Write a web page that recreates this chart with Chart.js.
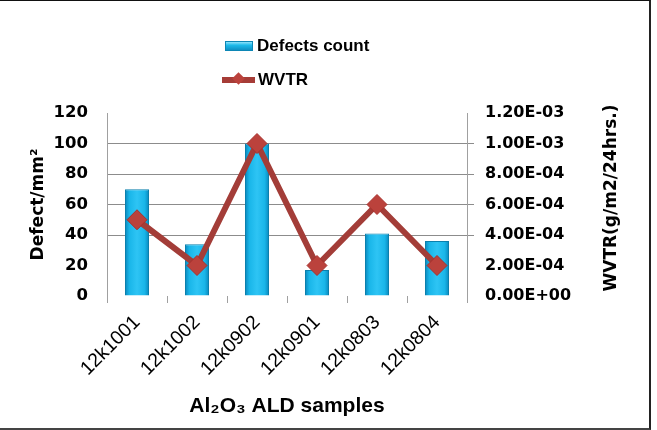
<!DOCTYPE html>
<html lang="en">
<head>
  <meta charset="UTF-8" />
  <title>Defects count and WVTR</title>
  <script src="https://cdn.jsdelivr.net/npm/chart.js"></script>
  <style>
    body {
      margin: 0;
      background: white;
      font-family: "Liberation Sans", Arial, sans-serif;
    }
    .wrap {
      position: relative;
      width: 657px;
      height: 430px;
    }
    .frame {
      position: absolute;
      left: -2px;
      top: 0;
      width: 651px;
      height: 427px;
      border-top: 1px solid #111;
      border-right: 2px solid #222;
      border-bottom: 2px solid #444;
      pointer-events: none;
    }
    .legend {
      position: absolute;
      left: 222px;
      top: 34px;
      font-weight: bold;
      font-size: 17px;
      color: #000;
    }
    .legend .item {
      height: 24px;
      line-height: 24px;
      display: flex;
      align-items: center;
      margin-bottom: 10px;
    }
    .legend .box {
      display: inline-block;
      width: 28px;
      height: 10px;
      margin-left: 3px;
      margin-right: 4px;
      background: linear-gradient(#8fe2fa, #1cbaea 40%, #0e90c4);
      border: 1px solid #0c86b5;
      box-sizing: border-box;
    }
    .legend .line {
      position: relative;
      display: inline-block;
      width: 33px;
      height: 6px;
      margin-right: 3px;
      background: #a63c37;
    }
    .legend .line::after {
      content: "";
      position: absolute;
      left: 12px;
      top: -3px;
      width: 9px;
      height: 9px;
      background: #bb423c;
      transform: rotate(45deg);
    }
    .rtitle {
      position: absolute;
      left: 610px;
      top: 198px;
      transform: translate(-50%, -50%) rotate(-90deg);
      white-space: nowrap;
      font-family: "DejaVu Sans", sans-serif;
      font-weight: bold;
      font-size: 17px;
      color: #000;
    }
    canvas { display: block; }
  </style>
</head>
<body>
<div class="wrap">
  <canvas id="chart" width="657" height="430"></canvas>
  <div class="legend">
    <div class="item"><span class="box"></span>Defects count</div>
    <div class="item"><span class="line"></span>WVTR</div>
  </div>
  <div class="rtitle">WVTR(g/m2/24hrs.)</div>
  <div class="frame"></div>
</div>

<script>
  const samples = ["12k1001", "12k1002", "12k0902", "12k0901", "12k0803", "12k0804"];
  const defects = [70, 34, 100, 17, 41, 36];
  const wvtr = [5e-4, 2e-4, 1e-3, 2e-4, 6e-4, 2e-4];
  const leftTicks = [0, 20, 40, 60, 80, 100, 120];
  const rightTicks = [0, 2e-4, 4e-4, 6e-4, 8e-4, 1e-3, 1.2e-3];
  const shownGrid = [40, 60, 80, 100];

  const dejaBold = { family: "'DejaVu Sans', sans-serif", weight: "bold" };

  function barFill(ctx) {
    const chart = ctx.chart;
    const el = chart.getDatasetMeta(1).data[ctx.dataIndex];
    if (!el || !el.width) return "#1cb8ea";
    const x0 = el.x - el.width / 2, x1 = el.x + el.width / 2;
    const g = chart.ctx.createLinearGradient(x0, 0, x1, 0);
    g.addColorStop(0, "#0a86bb");
    g.addColorStop(0.18, "#19b6e9");
    g.addColorStop(0.5, "#2ec4f4");
    g.addColorStop(0.82, "#19b6e9");
    g.addColorStop(1, "#0a86bb");
    return g;
  }

  const chart = new Chart(document.getElementById("chart"), {
    type: "bar",
    data: {
      labels: samples,
      datasets: [
        {
          type: "line",
          label: "WVTR",
          data: wvtr,
          yAxisID: "y1",
          borderColor: "#a33d38",
          borderWidth: 6,
          pointStyle: "rectRot",
          pointRadius: 10,
          pointBackgroundColor: "#bb423c",
          pointBorderColor: "#a8302c",
          pointBorderWidth: 1,
          tension: 0,
          order: 1
        },
        {
          label: "Defects count",
          data: defects,
          yAxisID: "y",
          backgroundColor: barFill,
          borderColor: "#0b80ad",
          borderWidth: 1,
          barPercentage: 0.4,
          categoryPercentage: 1,
          order: 2
        }
      ]
    },
    options: {
      responsive: false,
      animation: false,
      layout: { padding: { top: 113, left: 25, right: 33, bottom: 7 } },
      plugins: {
        legend: { display: false },
        tooltip: { enabled: false }
      },
      scales: {
        x: {
          afterFit: s => { s.height = 127; },
          offset: true,
          grid: {
            offset: true,
            drawOnChartArea: false,
            tickLength: 7,
            color: "#a0a0a0"
          },
          border: { display: false },
          ticks: {
            minRotation: 45,
            maxRotation: 45,
            padding: 8,
            color: "#000",
            font: { family: "'Liberation Sans', Arial, sans-serif", size: 19.5 }
          },
          title: {
            display: true,
            text: "Al\u2082O\u2083 ALD samples",
            color: "#000",
            padding: 4,
            font: { family: "'Liberation Sans', Arial, sans-serif", weight: "bold", size: 21 }
          }
        },
        y: {
          position: "left",
          min: 0,
          max: 120,
          afterFit: s => { s.width = 82; },
          afterBuildTicks: s => { s.ticks = leftTicks.map(v => ({ value: v })); },
          grid: {
            drawTicks: false,
            color: ctx => shownGrid.includes(ctx.tick && ctx.tick.value) ? "#8c8c8c" : "rgba(0,0,0,0)",
            lineWidth: 1
          },
          border: { display: true, color: "#a0a0a0" },
          ticks: {
            padding: 19,
            color: "#000",
            font: Object.assign({ size: 16.5 }, dejaBold)
          },
          title: {
            display: true,
            text: "Defect/mm\u00b2",
            color: "#000",
            padding: 3,
            font: Object.assign({ size: 17 }, dejaBold)
          }
        },
        y1: {
          position: "right",
          min: 0,
          max: 1.2e-3,
          afterFit: s => { s.width = 157; },
          afterBuildTicks: s => { s.ticks = rightTicks.map(v => ({ value: v })); },
          grid: {
            drawOnChartArea: false,
            tickLength: 7,
            color: ctx => (ctx.tick && ctx.tick.value > 3e-4 && ctx.tick.value < 1.1e-3) ? "#8c8c8c" : "rgba(0,0,0,0)"
          },
          border: { display: true, color: "#a0a0a0" },
          ticks: {
            padding: 11,
            color: "#000",
            font: Object.assign({ size: 16 }, dejaBold),
            callback: v => {
              const s = Number(v).toExponential(2).toUpperCase();
              return s.replace(/E([+-])(\d)$/, "E$10$2");
            }
          },
          title: { display: false }
        }
      }
    }
  });
  // second pass so the bar gradients can use the laid-out bar positions
  chart.update();
</script>
</body>
</html>
